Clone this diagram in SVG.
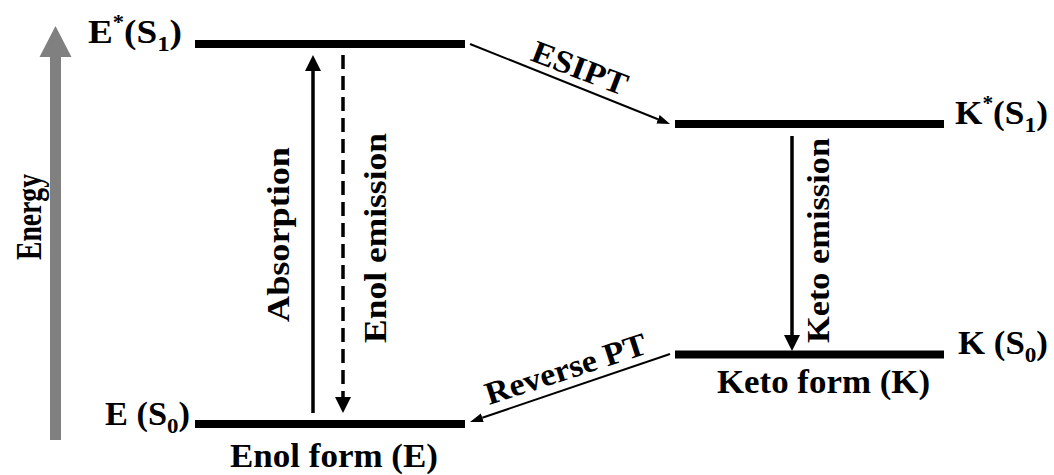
<svg xmlns="http://www.w3.org/2000/svg" width="1054" height="475" viewBox="0 0 1054 475">
<style>
  .lbl { font-family: "Liberation Serif", "Times New Roman", serif; font-weight: bold; font-size: 32px; fill: #000; }
  .big { font-size: 33px; }
  .axis { font-size: 35px; }
  .sub { font-size: 22px; }
  .sup { font-size: 20px; }
  .lvl { stroke: #000; stroke-width: 8; }
  .thick { stroke: #000; stroke-width: 3.5; fill: none; }
  .thin { stroke: #000; stroke-width: 2; fill: none; }
</style>
<defs>
  <marker id="headBig" markerUnits="userSpaceOnUse" markerWidth="16" markerHeight="18" viewBox="0 -8 16 16" refX="0" refY="0" orient="auto">
    <path d="M0,-8 L16,0 L0,8 Z" fill="#000"/>
  </marker>
  <marker id="headSmall" markerUnits="userSpaceOnUse" markerWidth="13" markerHeight="10" viewBox="0 -5 13 10" refX="0" refY="0" orient="auto">
    <path d="M0,-4.5 L13,0 L0,4.5 Z" fill="#000"/>
  </marker>
</defs>

<g id="energy-axis">
  <path d="M50,440 L50,57 L39.5,57 L55.5,26 L71.5,57 L61,57 L61,440 Z" fill="#808080"/>
  <text class="lbl axis" transform="translate(41,217) rotate(-90)" text-anchor="middle" textLength="86" lengthAdjust="spacingAndGlyphs">Energy</text>
</g>

<g id="enol-s1">
  <line class="lvl" x1="195" y1="44" x2="465" y2="44"/>
  <text class="lbl big" x="88" y="43" textLength="94" lengthAdjust="spacingAndGlyphs">E<tspan class="sup" dy="-14">*</tspan><tspan dy="14">(S</tspan><tspan class="sub" dy="8">1</tspan><tspan dy="-8">)</tspan></text>
</g>

<g id="enol-s0">
  <line class="lvl" x1="195" y1="424" x2="465" y2="424"/>
  <text class="lbl big" x="105" y="425" textLength="85" lengthAdjust="spacingAndGlyphs">E (S<tspan class="sub" dy="8">0</tspan><tspan dy="-8">)</tspan></text>
  <text class="lbl big" x="230" y="467" textLength="208" lengthAdjust="spacingAndGlyphs">Enol form (E)</text>
</g>

<g id="keto-s1">
  <line class="lvl" x1="675" y1="124" x2="944" y2="124"/>
  <text class="lbl big" x="955" y="124" textLength="93" lengthAdjust="spacingAndGlyphs">K<tspan class="sup" dy="-14">*</tspan><tspan dy="14">(S</tspan><tspan class="sub" dy="8">1</tspan><tspan dy="-8">)</tspan></text>
</g>

<g id="keto-s0">
  <line class="lvl" x1="675" y1="354.5" x2="944" y2="354.5"/>
  <text class="lbl big" x="958" y="354" textLength="90" lengthAdjust="spacingAndGlyphs">K (S<tspan class="sub" dy="8">0</tspan><tspan dy="-8">)</tspan></text>
  <text class="lbl big" x="717" y="393" textLength="213" lengthAdjust="spacingAndGlyphs">Keto form (K)</text>
</g>

<g id="connectors">
  <line class="thick" x1="313" y1="413" x2="313" y2="71" marker-end="url(#headBig)"/>
  <line class="thick" x1="343" y1="55" x2="343" y2="397" stroke-dasharray="14 7" marker-end="url(#headBig)"/>
  <line class="thick" x1="792" y1="136" x2="792" y2="335" marker-end="url(#headBig)"/>
  <line class="thin" x1="470" y1="44" x2="658" y2="119.2" marker-end="url(#headSmall)"/>
  <line class="thin" x1="670" y1="354" x2="482.3" y2="417.8" marker-end="url(#headSmall)"/>
  <text class="lbl" transform="translate(289,234.5) rotate(-90)" text-anchor="middle" textLength="175" lengthAdjust="spacingAndGlyphs">Absorption</text>
  <text class="lbl" transform="translate(386,238) rotate(-90)" text-anchor="middle" textLength="210" lengthAdjust="spacingAndGlyphs">Enol emission</text>
  <text class="lbl" transform="translate(829,240.5) rotate(-90)" text-anchor="middle" textLength="205" lengthAdjust="spacingAndGlyphs">Keto emission</text>
  <text class="lbl" transform="translate(576,78) rotate(21)" text-anchor="middle" textLength="100" lengthAdjust="spacingAndGlyphs">ESIPT</text>
  <text class="lbl" transform="translate(569,379) rotate(-18)" text-anchor="middle" textLength="168" lengthAdjust="spacingAndGlyphs">Reverse PT</text>
</g>
</svg>
